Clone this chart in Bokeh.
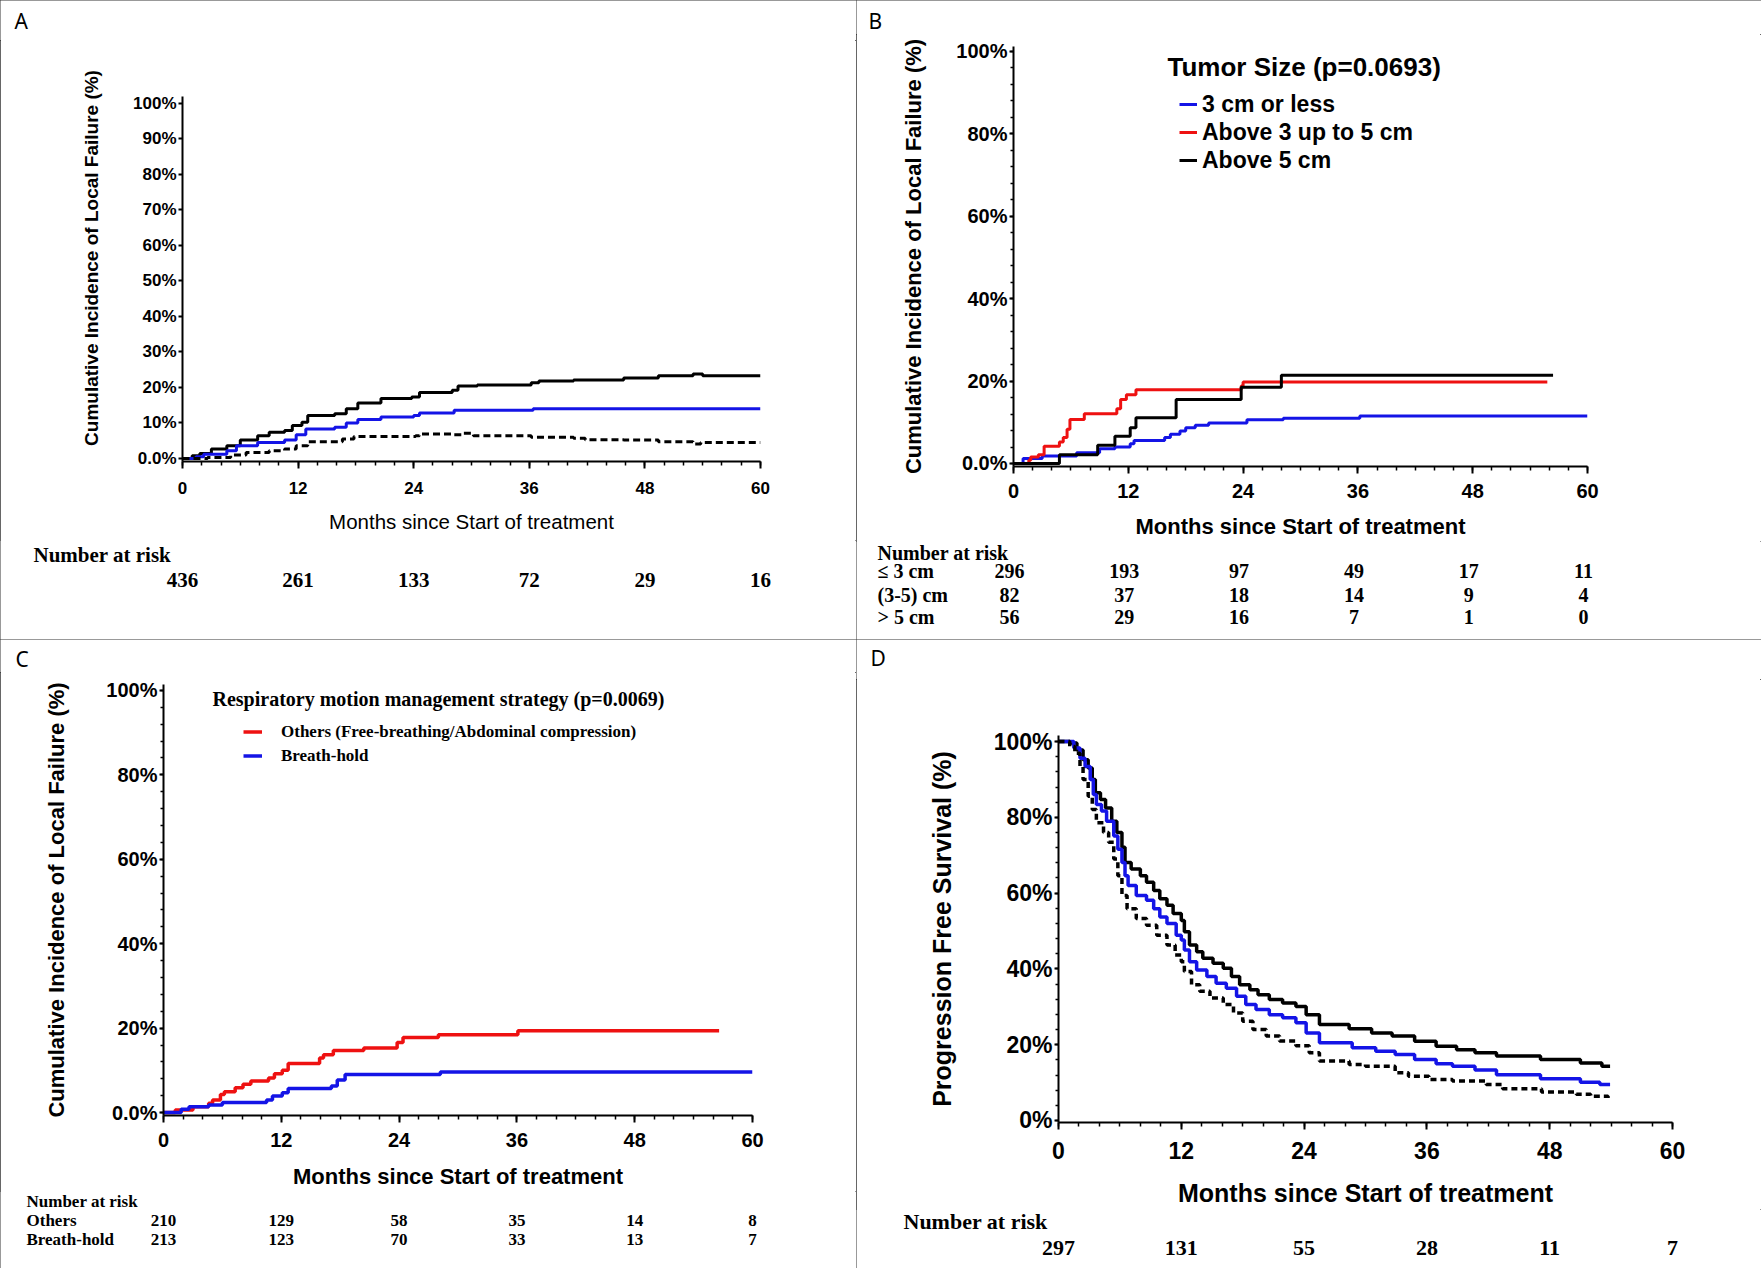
from bokeh.plotting import figure
from bokeh.models import FixedTicker, Label, Legend, LegendItem, Range1d
from bokeh.layouts import column, row
from bokeh.core.properties import value
from bokeh.embed import file_html
from bokeh.resources import INLINE

SANS = "Liberation Sans"
SERIF = "Liberation Serif"
LETTER_FONT = "Noto Sans"
BLUE = "#1414e6"
RED = "#ee1111"

month_ticks = [0, 12, 24, 36, 48, 60]
month_tick_labels = ["0", "12", "24", "36", "48", "60"]
yA_ticks = [0, 10, 20, 30, 40, 50, 60, 70, 80, 90, 100]
yA_labels = ["0.0%", "10%", "20%", "30%", "40%", "50%", "60%", "70%", "80%", "90%", "100%"]
yBC_ticks = [0, 20, 40, 60, 80, 100]
yBC_labels = ["0.0%", "20%", "40%", "60%", "80%", "100%"]
yD_ticks = [0, 20, 40, 60, 80, 100]
yD_labels = ["0%", "20%", "40%", "60%", "80%", "100%"]

# ---------------- Panel A : overall cumulative incidence ----------------
A_black_t = [0, 1.0, 1.8, 3.0, 4.6, 6.0, 7.8, 9.0, 10.6, 11.4, 12.4, 13.0, 15.8, 17.0, 18.2, 20.6, 23.8, 24.6, 28.0, 28.6, 30.6, 36.2, 37.0, 40.6, 45.8, 49.4, 53.0, 54.0, 60]
A_black_v = [0, 0.8, 1.4, 2.7, 3.6, 5.2, 6.4, 7.4, 7.9, 9.3, 10.2, 12.1, 12.6, 14.0, 15.6, 16.9, 17.3, 18.6, 19.2, 20.4, 20.7, 21.3, 21.8, 22.1, 22.7, 23.3, 23.8, 23.3, 23.3]
A_blue_t = [0, 1.4, 2.2, 4.6, 5.6, 7.8, 10.6, 11.8, 12.8, 15.8, 17.0, 18.2, 20.6, 24.0, 24.6, 28.2, 36.4, 60]
A_blue_v = [0, 0.5, 1.2, 2.2, 3.6, 4.5, 5.2, 6.7, 8.3, 8.8, 10.0, 11.0, 11.7, 12.1, 12.8, 13.6, 14.0, 14.0]
A_dash_t = [0, 2.6, 5.0, 6.6, 9.0, 10.6, 11.8, 13.0, 16.6, 17.8, 24.2, 24.6, 28.2, 29.0, 30.2, 36.2, 40.6, 41.8, 45.8, 49.4, 53.0, 53.8, 60]
A_dash_v = [0, 0.3, 1.0, 1.7, 2.2, 2.7, 3.6, 4.7, 5.5, 6.2, 6.4, 6.9, 6.7, 7.1, 6.4, 6.0, 5.7, 5.3, 5.2, 4.7, 4.1, 4.5, 4.5]
A_risk = [436, 261, 133, 72, 29, 16]

# ---------------- Panel B : tumor size ----------------
B_small_t = [0, 1.0, 3.0, 6.6, 9.0, 10.6, 12.2, 12.6, 15.8, 16.4, 17.4, 18.0, 19.0, 20.4, 24.4, 28.2, 36.2, 60]
B_small_v = [0, 1.2, 1.8, 2.6, 3.6, 4.0, 4.8, 5.6, 6.3, 7.1, 7.9, 8.7, 9.3, 9.8, 10.6, 11.0, 11.5, 11.5]
B_mid_t = [1.0, 1.6, 1.8, 2.6, 3.2, 4.8, 5.2, 5.6, 5.9, 7.4, 10.8, 11.2, 11.8, 12.8, 23.8, 24.0, 55.8]
B_mid_v = [0, 0.8, 1.6, 2.1, 4.2, 5.2, 6.3, 8.3, 10.7, 12.1, 13.3, 15.5, 16.7, 17.9, 18.8, 19.8, 19.8]
B_large_t = [0, 4.8, 8.8, 10.6, 12.2, 12.8, 17.0, 23.8, 28.0, 56.4]
B_large_v = [0, 2.1, 4.4, 6.6, 8.7, 11.1, 15.5, 18.5, 21.4, 21.4]
B_legend_title = "Tumor Size (p=0.0693)"
B_series_names = ["3 cm or less", "Above 3 up to 5 cm", "Above 5 cm"]
B_row_names = ["\u2264 3 cm", "(3-5) cm", "> 5 cm"]
B_risk_small = [296, 193, 97, 49, 17, 11]
B_risk_mid = [82, 37, 18, 14, 9, 4]
B_risk_large = [56, 29, 16, 7, 1, 0]

# ---------------- Panel C : respiratory motion management ----------------
C_others_t = [0, 1.2, 3.0, 4.6, 5.0, 5.8, 6.2, 7.3, 8.1, 8.9, 10.7, 11.3, 12.1, 12.7, 15.9, 16.3, 17.3, 20.4, 23.8, 24.4, 28.0, 36.1, 56.6]
C_others_v = [0, 0.6, 1.4, 2.2, 3.0, 4.3, 4.9, 5.9, 6.7, 7.5, 8.2, 9.2, 10.0, 11.6, 12.9, 13.7, 14.7, 15.3, 16.6, 17.8, 18.4, 19.4, 19.4]
C_bh_t = [0, 1.8, 2.6, 4.6, 6.0, 10.5, 11.1, 12.1, 12.7, 17.1, 17.7, 18.5, 28.2, 60]
C_bh_v = [0, 0.8, 1.4, 1.8, 2.4, 3.0, 3.9, 4.7, 5.7, 6.3, 7.7, 9.0, 9.6, 9.6]
C_legend_title = "Respiratory motion management strategy (p=0.0069)"
C_series_names = ["Others (Free-breathing/Abdominal compression)", "Breath-hold"]
C_row_names = ["Others", "Breath-hold"]
C_risk_others = [210, 129, 58, 35, 14, 8]
C_risk_bh = [213, 123, 70, 33, 13, 7]

# ---------------- Panel D : progression free survival ----------------
D_black_t = [0, 1.1, 1.8, 2.4, 2.9, 3.3, 3.6, 4.1, 4.6, 5.2, 5.7, 6.2, 6.5, 7.1, 8.0, 8.6, 9.3, 9.9, 10.6, 11.2, 12.0, 12.3, 12.8, 13.5, 14.1, 15.1, 16.1, 16.9, 17.7, 18.7, 19.5, 20.6, 21.9, 23.2, 24.2, 25.5, 28.4, 30.6, 32.6, 34.8, 36.9, 38.9, 40.7, 42.8, 47.1, 51.0, 53.1, 53.9]
D_black_v = [100, 99.6, 97.8, 95.2, 93.0, 90.0, 86.5, 84.7, 82.5, 79.0, 76.0, 72.1, 68.1, 66.4, 64.6, 62.9, 60.7, 58.5, 56.8, 54.6, 52.8, 49.8, 46.3, 44.5, 42.8, 41.5, 40.2, 38.0, 35.8, 34.5, 33.2, 31.9, 31.0, 30.1, 27.9, 25.3, 24.2, 23.1, 22.3, 20.9, 19.6, 18.7, 17.9, 17.0, 16.1, 15.2, 14.3, 14.3]
D_blue_t = [0, 1.5, 2.1, 2.6, 3.1, 3.4, 3.7, 4.2, 4.7, 5.4, 5.8, 6.2, 6.5, 6.8, 7.6, 8.6, 9.3, 9.9, 10.6, 11.5, 12.0, 12.3, 12.8, 13.5, 14.5, 15.4, 16.4, 17.4, 18.3, 19.3, 20.6, 21.9, 23.2, 24.2, 25.5, 28.7, 31.0, 32.9, 34.8, 36.9, 38.5, 40.7, 42.8, 47.1, 51.0, 52.9, 53.9]
D_blue_v = [100, 98.3, 95.6, 93.4, 90.0, 86.0, 83.4, 81.7, 79.0, 75.1, 71.6, 68.1, 64.6, 62.0, 59.4, 58.1, 55.9, 53.7, 52.0, 48.9, 47.6, 45.0, 41.9, 39.7, 38.0, 36.2, 34.9, 32.8, 30.6, 29.3, 27.9, 27.1, 25.8, 23.1, 20.5, 19.2, 18.3, 17.4, 16.1, 15.0, 14.3, 13.3, 12.1, 11.0, 10.1, 9.5, 9.5]
D_dash_t = [0, 1.1, 1.6, 2.1, 2.4, 2.9, 3.3, 3.7, 4.4, 4.9, 5.4, 5.8, 6.2, 6.7, 7.6, 8.6, 9.6, 10.6, 11.4, 12.0, 12.3, 13.0, 13.8, 14.8, 16.1, 17.1, 18.0, 19.0, 20.3, 21.6, 23.2, 24.5, 25.5, 28.4, 30.0, 32.9, 34.2, 36.2, 38.5, 41.8, 43.4, 47.2, 50.6, 52.0, 53.7, 53.9]
D_dash_v = [100, 98.7, 96.9, 93.4, 90.0, 85.6, 82.1, 78.6, 76.0, 73.4, 69.0, 64.6, 59.4, 55.9, 53.3, 51.5, 48.9, 46.3, 43.7, 41.9, 39.3, 35.8, 34.1, 32.3, 30.6, 28.4, 26.2, 24.0, 22.3, 21.0, 19.7, 17.9, 15.7, 14.8, 14.3, 12.6, 11.7, 10.8, 10.4, 9.5, 8.4, 7.5, 6.9, 6.4, 5.9, 5.9]
D_risk = [297, 131, 55, 28, 11, 7]

risk_months = [0, 12, 24, 36, 48, 60]
risk_title = "Number at risk"
YLAB = "Cumulative Incidence of Local Failure (%)"
YLAB_D = "Progression Free Survival (%)"
XLAB = "Months since Start of treatment"


def no_align(p):
    if "frame_align" in p.properties():
        p.frame_align = False


def main_fig(w, h, fl, ft, fw, fh, y0, y1):
    p = figure(width=w, height=h, x_range=Range1d(0, 60), y_range=Range1d(y0, y1),
               min_border_left=fl, min_border_right=w - fl - fw,
               min_border_top=ft, min_border_bottom=h - ft - fh,
               output_backend="svg", toolbar_location=None, tools="")
    p.outline_line_color = None
    p.grid.visible = False
    no_align(p)
    return p


def strip_fig(w, h, x0, x1):
    p = figure(width=w, height=h, x_range=Range1d(x0, x1), y_range=Range1d(h, 0),
               min_border=0, min_border_left=0, min_border_right=0, min_border_top=0,
               min_border_bottom=0, x_axis_location=None, y_axis_location=None,
               output_backend="svg", toolbar_location=None, tools="")
    p.outline_line_color = None
    p.grid.visible = False
    no_align(p)
    return p


def style_axes(p, yticks, ylabels, ybounds, yminor, tick_px, ylab, ylab_px, ylab_standoff,
               xlab, xlab_px, xlab_style, xlab_standoff, xtick_standoff):
    xa = p.xaxis[0]
    ya = p.yaxis[0]
    xa.ticker = FixedTicker(ticks=month_ticks, minor_ticks=list(range(0, 61, 2)))
    xa.major_label_overrides = dict(zip(month_ticks, month_tick_labels))
    ya.ticker = FixedTicker(ticks=yticks, minor_ticks=yminor)
    ya.major_label_overrides = dict(zip(yticks, ylabels))
    if ybounds is not None:
        ya.bounds = ybounds
    for ax in (xa, ya):
        ax.axis_line_width = 2
        ax.axis_line_color = "black"
        ax.major_tick_line_width = 2
        ax.minor_tick_line_width = 1.5
        ax.major_tick_in = 0
        ax.minor_tick_in = 0
        ax.major_label_text_font = SANS
        ax.major_label_text_font_style = "bold"
        ax.major_label_text_font_size = f"{tick_px}px"
        ax.major_label_text_color = "black"
        ax.axis_label_text_font = SANS
        ax.axis_label_text_color = "black"
    xa.major_tick_out = 7
    xa.minor_tick_out = 4
    ya.major_tick_out = 4
    ya.minor_tick_out = 3
    ya.major_label_standoff = 2
    xa.major_label_standoff = xtick_standoff
    ya.axis_label = ylab
    ya.axis_label_text_font_size = f"{ylab_px}px"
    ya.axis_label_text_font_style = "bold"
    ya.axis_label_standoff = ylab_standoff
    xa.axis_label = xlab
    xa.axis_label_text_font_size = f"{xlab_px}px"
    xa.axis_label_text_font_style = xlab_style
    xa.axis_label_standoff = xlab_standoff


def letter_strip(w, h, letter, lx, ly):
    s = strip_fig(w, h, 0, w)
    s.text(x=[lx], y=[ly], text=[letter], text_font=value(LETTER_FONT), text_font_size="21px",
           text_align="left", text_baseline="middle", text_color="black")
    return s


def risk_strip(w, h, fl, fw, rows, title_y, label_px, size, num_dx=0):
    ppm = fw / 60.0
    s = strip_fig(w, h, -fl / ppm, (w - fl) / ppm)
    lx = (label_px - fl) / ppm
    s.text(x=[lx], y=[title_y], text=[risk_title], text_font=value(SERIF), text_font_style="bold",
           text_font_size=f"{size}px", text_align="left", text_baseline="middle", text_color="black")
    for ry, name, vals in rows:
        if name:
            s.text(x=[lx], y=[ry], text=[name], text_font=value(SERIF), text_font_style="bold",
                   text_font_size=f"{size}px", text_align="left", text_baseline="middle",
                   text_color="black")
        s.text(x=risk_months, y=[ry] * len(vals), text=[str(v) for v in vals], x_offset=num_dx,
               text_font=value(SERIF), text_font_style="bold", text_font_size=f"{size}px",
               text_align="center", text_baseline="middle", text_color="black")
    return s


PANEL_STYLE = {"outline": "1px solid #333333", "outline-offset": "-1px"}

# ======== Panel A ========  (panel 856 x 639; frame x 182..760, y 54..461)
topA = letter_strip(856, 40, "A", 14, 20)
pA = main_fig(856, 500, 182, 14, 578, 407, -0.85, 113.8)
style_axes(pA, yA_ticks, yA_labels, (-0.85, 101.9), [], 17, YLAB, 19, 28, XLAB, 20.5, "normal", 13, 13)
pA.step(A_black_t, A_black_v, mode="after", line_color="black", line_width=3)
pA.step(A_blue_t, A_blue_v, mode="after", line_color=BLUE, line_width=3)
pA.step(A_dash_t, A_dash_v, mode="after", line_color="black", line_width=3, line_dash="7 4")
riskA = risk_strip(856, 99, 182, 578, [(39, None, A_risk)], 14, 33, 21)
colA = column(topA, pA, riskA)
colA.styles = PANEL_STYLE

# ======== Panel B ========  (panel 905 x 639; frame x 157..731, y 46..467)
topB = letter_strip(905, 34, "B", 12, 20)
pB = main_fig(905, 507, 157, 12, 574, 421, -0.73, 101.2)
style_axes(pB, yBC_ticks, yBC_labels, None, list(range(0, 101, 4)), 20, YLAB, 22, 27,
           XLAB, 22, "bold", 13, 10)
rb1 = pB.step(B_small_t, B_small_v, mode="after", line_color=BLUE, line_width=3)
rb2 = pB.step(B_mid_t, B_mid_v, mode="after", line_color=RED, line_width=3)
rb3 = pB.step(B_large_t, B_large_v, mode="after", line_color="black", line_width=3)
legB = Legend(items=[LegendItem(label=n, renderers=[r]) for n, r in zip(B_series_names, [rb1, rb2, rb3])],
              location=(166, 292), padding=0, margin=0, spacing=0,
              glyph_width=18, glyph_height=28, label_height=28, label_standoff=5,
              label_text_font=SANS, label_text_font_style="bold", label_text_font_size="23px",
              label_text_color="black", border_line_color=None, background_fill_alpha=0)
pB.add_layout(legB)
pB.add_layout(Label(x=154, y=400, x_units="screen", y_units="screen", text=B_legend_title,
                    text_font=SANS, text_font_style="bold", text_font_size="26px",
                    text_baseline="middle", text_color="black"))
riskB = risk_strip(905, 98, 157, 574,
                   [(29, B_row_names[0], B_risk_small), (53, B_row_names[1], B_risk_mid),
                    (75, B_row_names[2], B_risk_large)], 11, 21, 20, num_dx=-4)
colB = column(topB, pB, riskB)
colB.styles = PANEL_STYLE

# ======== Panel C ========  (panel 856 x 629; frame x 163..752, y 684..1118)
topC = letter_strip(856, 33, "C", 15, 19)
pC = main_fig(856, 519, 163, 12, 589, 434, -0.7, 101.4)
style_axes(pC, yBC_ticks, yBC_labels, None, list(range(0, 101, 4)), 20, YLAB, 22, 34,
           XLAB, 22, "bold", 14, 10)
rc1 = pC.step(C_others_t, C_others_v, mode="after", line_color=RED, line_width=3.5)
rc2 = pC.step(C_bh_t, C_bh_v, mode="after", line_color=BLUE, line_width=3.5)
legC = Legend(items=[LegendItem(label=n, renderers=[r]) for n, r in zip(C_series_names, [rc1, rc2])],
              location=(80, 349), padding=0, margin=0, spacing=3,
              glyph_width=19, glyph_height=21, label_height=21, label_standoff=19,
              label_text_font=SERIF, label_text_font_style="bold", label_text_font_size="17px",
              label_text_color="black", border_line_color=None, background_fill_alpha=0)
pC.add_layout(legC)
pC.add_layout(Label(x=49, y=417, x_units="screen", y_units="screen", text=C_legend_title,
                    text_font=SERIF, text_font_style="bold", text_font_size="20px",
                    text_baseline="middle", text_color="black"))
riskC = risk_strip(856, 77, 163, 589,
                   [(28.5, C_row_names[0], C_risk_others), (47.5, C_row_names[1], C_risk_bh)], 9.5, 26, 17)
colC = column(topC, pC, riskC)
colC.styles = PANEL_STYLE

# ======== Panel D ========  (panel 905 x 629; frame x 202..816, y 735..1122)
topD = letter_strip(905, 40, "D", 14, 18)
pD = main_fig(905, 530, 202, 56, 614, 387, -0.53, 101.6)
style_axes(pD, yD_ticks, yD_labels, None, list(range(0, 101, 4)), 23, YLAB_D, 25, 35,
           XLAB, 25, "bold", 17, 12)
pD.step(D_black_t, D_black_v, mode="after", line_color="black", line_width=3.5)
pD.step(D_blue_t, D_blue_v, mode="after", line_color=BLUE, line_width=3.5)
pD.step(D_dash_t, D_dash_v, mode="after", line_color="black", line_width=3.5, line_dash="6 4")
riskD = risk_strip(905, 59, 202, 614, [(38, None, D_risk)], 12, 47, 22)
colD = column(topD, pD, riskD)
colD.styles = PANEL_STYLE

layout = column(row(colA, colB), row(colC, colD))
open("out.html", "w").write(file_html(layout, INLINE))
